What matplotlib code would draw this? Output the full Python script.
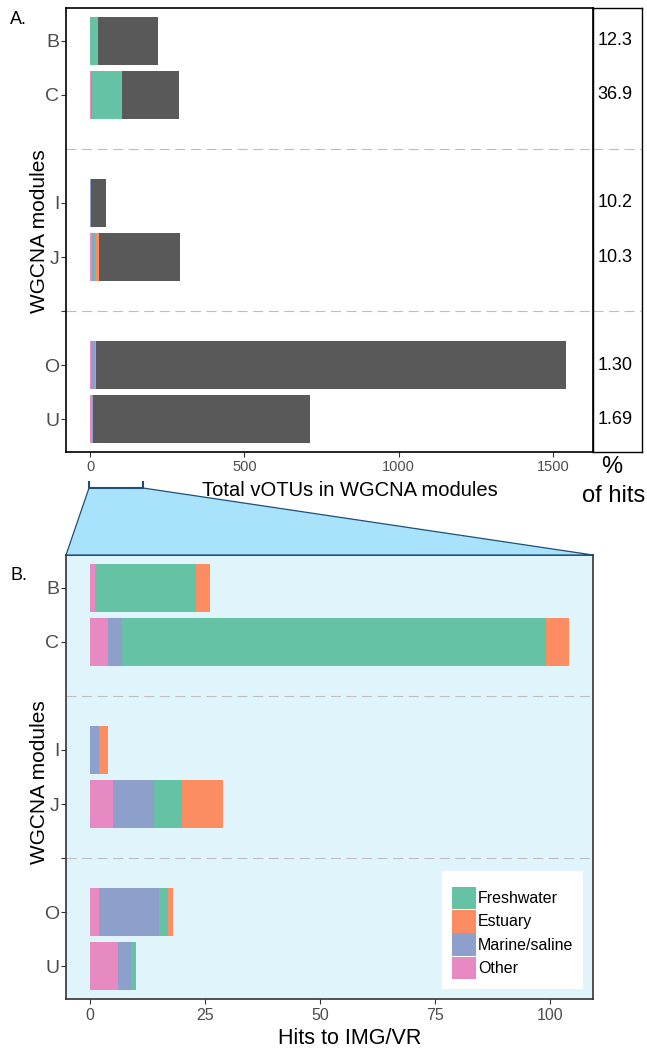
import numpy as np
import matplotlib.pyplot as plt
from matplotlib.patches import Patch, Polygon
from matplotlib.lines import Line2D

plt.rcParams["font.family"] = ["Liberation Sans", "DejaVu Sans"]

# ============================================================
# DATA
# ============================================================

modules     = ["B", "C", "I", "J", "O", "U"]
y_pos       = [8, 7, 5, 4, 2, 1]          # group gaps at 6 and 3
sep_pos     = [6, 3]

hit_other   = [1, 4, 0, 5, 2, 6]
hit_marine  = [0, 3, 2, 9, 13, 3]
hit_fresh   = [22, 92, 0, 6, 2, 1]
hit_estuary = [3, 5, 2, 9, 1, 0]

total_votus = [219, 288, 52, 292, 1542, 713]
pct_hits    = ["12.3", "36.9", "10.2", "10.3", "1.30", "1.69"]

top_xticks  = [0, 500, 1000, 1500]
bot_xticks  = [0, 25, 50, 75, 100]

habitats = ["Other", "Marine/saline", "Freshwater", "Estuary"]
hab_cols = {"Freshwater": "#66C2A5", "Estuary": "#FC8D62",
            "Marine/saline": "#8DA0CB", "Other": "#E78AC3"}
legend_order = ["Freshwater", "Estuary", "Marine/saline", "Other"]

hits = np.array([hit_other, hit_marine, hit_fresh, hit_estuary], dtype=float)
no_hit = np.array(total_votus) - hits.sum(axis=0)

# ============================================================
# FIGURE
# ============================================================

W, H = 647, 1049
fig = plt.figure(figsize=(W / 100, H / 100), dpi=100)

def fx(px):
    return px / W

def fy(py):
    return 1 - py / H

TICK_COL = "#4D4D4D"
YTICK_FONT = ["Liberation Sans Narrow", "Liberation Sans", "DejaVu Sans"]
DASH = dict(color="#BEBEBE", lw=0.8, ls=(0, (9, 5)), zorder=0)
YLIM = (0.39, 8.61)

ax_top = fig.add_axes([fx(66), fy(452), fx(593) - fx(66), fy(8) - fy(452)])
ax_pct = fig.add_axes([fx(593), fy(452), fx(642) - fx(593), fy(8) - fy(452)])
ax_bot = fig.add_axes([fx(66), fy(999), fx(593) - fx(66), fy(555) - fy(999)])


def stacked(ax, segs, cols):
    left = np.zeros(len(y_pos))
    for vals, c in zip(segs, cols):
        ax.barh(y_pos, vals, left=left, height=0.9, color=c, lw=0, zorder=2)
        left += vals


def style_axis(ax, spine_col, xticks):
    for s in ax.spines.values():
        s.set_color(spine_col)
        s.set_linewidth(1.2)
    ax.set_ylim(*YLIM)
    ax.set_yticks(y_pos + [3])
    ax.set_yticklabels(modules + [""], fontsize=14, color=TICK_COL,
                       family=YTICK_FONT)
    ax.set_xticks(xticks)
    ax.tick_params(axis="both", length=3.5, width=0.8, color="#333333")
    ax.tick_params(axis="y", pad=1.2)
    for y in sep_pos:
        ax.axhline(y, **DASH)


# ---- Panel A: total vOTUs ----
stacked(ax_top, list(hits) + [no_hit],
        [hab_cols[h] for h in habitats] + ["#595959"])
style_axis(ax_top, "black", top_xticks)
ax_top.set_xlim(-78, 1629)
ax_top.tick_params(axis="x", labelsize=10.5, labelcolor=TICK_COL, pad=2)

# ---- % of hits strip ----
ax_pct.set_ylim(*YLIM)
ax_pct.set_xlim(0, 1)
ax_pct.set_xticks([])
ax_pct.set_yticks([])
for s in ax_pct.spines.values():
    s.set_color("black")
    s.set_linewidth(1.0)
for y in sep_pos:
    ax_pct.axhline(y, **DASH)
for y, p in zip(y_pos, pct_hits):
    ax_pct.text(0.45, y, p, ha="center", va="center", fontsize=13, color="black")

# ---- Panel B: hits to IMG/VR ----
ax_bot.set_facecolor("#E0F4FC")
stacked(ax_bot, list(hits), [hab_cols[h] for h in habitats])
style_axis(ax_bot, "#333333", bot_xticks)
ax_bot.set_xlim(-5.2, 109.3)
ax_bot.tick_params(axis="x", labelsize=11.5, labelcolor=TICK_COL, pad=3)

handles = [Patch(facecolor=hab_cols[h], edgecolor="none", label=h) for h in legend_order]
leg = ax_bot.legend(handles=handles, loc="lower right",
                    bbox_to_anchor=(0.981, 0.0225), fontsize=11.5,
                    frameon=True, fancybox=False, framealpha=1,
                    handlelength=1.5, handleheight=1.8, labelspacing=0.05,
                    handletextpad=0.15, borderpad=0.6, borderaxespad=0,
                    title=" ", title_fontsize=4)
leg.get_frame().set_edgecolor("none")
leg.get_frame().set_facecolor("white")

# ---- zoom connector between panels ----
fig.patches.append(Polygon([(fx(89), fy(488)), (fx(143), fy(488)),
                            (fx(593), fy(555)), (fx(66), fy(555))],
                           closed=True, transform=fig.transFigure,
                           facecolor="#A8E3FB", edgecolor="#1F4E79", lw=0.9,
                           zorder=0))
fig.lines.append(Line2D([fx(89), fx(89), fx(143), fx(143)],
                        [fy(482), fy(488), fy(488), fy(482)],
                        transform=fig.transFigure, color="#1F4E79", lw=1.5))

# ---- titles / labels ----
fig.text(fx(10), fy(20), "A.", fontsize=13, va="center", ha="left")
fig.text(fx(10), fy(576), "B.", fontsize=13, va="center", ha="left")
fig.text(fx(40), fy(231), "WGCNA modules", rotation=90, fontsize=15,
         ha="center", va="center")
fig.text(fx(40), fy(782), "WGCNA modules", rotation=90, fontsize=15,
         ha="center", va="center")
fig.text(fx(350), fy(490), "Total vOTUs in WGCNA modules", fontsize=14.5,
         ha="center", va="center")
fig.text(fx(350), fy(1038), "Hits to IMG/VR", fontsize=15.5,
         ha="center", va="center")
fig.text(fx(612), fy(467), "%", fontsize=17, ha="center", va="center")
fig.text(fx(614), fy(496), "of hits", fontsize=17, ha="center", va="center")

fig.savefig("out.png", dpi=100)
